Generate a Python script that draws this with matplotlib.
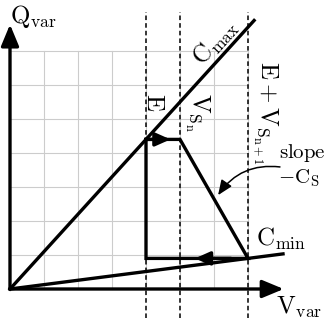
import matplotlib
matplotlib.use("Agg")
import matplotlib.pyplot as plt

plt.rcParams["mathtext.fontset"] = "cm"

# grid and guide lines (data units)
grid_ticks = [0, 1, 2, 3, 4, 5, 6, 7]
dashed_x = [4, 5, 7]
dashed_y = (-0.85, 8.15)

# characteristic lines through the origin
cmax_slope = 1.1
cmax_end_x = 7.18
cmin_slope = 0.1286
cmin_end_x = 8.03

# operating cycle E -> V_Sn -> E+V_Sn+1 -> back to E
cycle_x = [4, 5, 7, 4, 4]
cycle_y = [4.4, 4.4, 0.9, 0.9, 4.4]

fig = plt.figure(figsize=(3.26, 3.23), dpi=100)
ax = fig.add_axes([0, 0, 1, 1])
ax.set_xlim(-10 / 34, 316 / 34)
ax.set_ylim(-1.0, 289 / 34)
ax.axis("off")

# light grid
for g in grid_ticks:
    ax.plot([g, g], [0, 7], color="#cccccc", lw=0.8, zorder=1)
    ax.plot([0, 7], [g, g], color="#cccccc", lw=0.8, zorder=1)

for x in dashed_x:
    ax.plot([x, x], dashed_y, color="black", lw=1.1, ls=(0, (3, 2)), zorder=2)

ax.plot([0, cmax_end_x], [0, cmax_slope * cmax_end_x], color="black", lw=2.4, zorder=3)
ax.plot([0, cmin_end_x], [0, cmin_slope * cmin_end_x], color="black", lw=2.4, zorder=3)
ax.plot(cycle_x, cycle_y, color="black", lw=2.4, zorder=3, solid_joinstyle="miter")

head = dict(arrowstyle="-|>,head_length=0.45,head_width=0.2", mutation_scale=20,
            color="black", lw=2.4, shrinkA=0, shrinkB=0)
ax.annotate("", xy=(4.72, 4.4), xytext=(4.0, 4.4), arrowprops=head, zorder=4)
ax.annotate("", xy=(5.44, 0.9), xytext=(6.5, 0.9), arrowprops=head, zorder=4)

# axes with arrows
axis_head = dict(arrowstyle="-|>,head_length=0.65,head_width=0.27", mutation_scale=20,
                 color="black", lw=2.4, shrinkA=0, shrinkB=0)
ax.annotate("", xy=(8.05, 0), xytext=(0, 0), arrowprops=axis_head, zorder=5)
ax.annotate("", xy=(0, 7.78), xytext=(0, 0), arrowprops=axis_head, zorder=5)

# curved pointer for the slope label
ax.annotate("", xy=(6.12, 2.76), xytext=(7.94, 3.59),
            arrowprops=dict(arrowstyle="-|>,head_length=0.6,head_width=0.25", mutation_scale=15,
                            color="black", lw=1.1, shrinkA=0, shrinkB=0,
                            connectionstyle="arc3,rad=0.3"), zorder=5)

fs = 18
ax.text(0.0, 8.0, r"$\mathrm{Q}_{\mathrm{var}}$", fontsize=fs, ha="left", va="center")
ax.text(8.5, -0.53, r"$\mathrm{V}_{\mathrm{var}}$", fontsize=fs, ha="center", va="center")
ax.text(6.03, 7.26, r"$\mathrm{C}_{\mathrm{max}}$", fontsize=fs, ha="center", va="center",
        rotation=47.7, rotation_mode="anchor")
ax.text(7.97, 1.47, r"$\mathrm{C}_{\mathrm{min}}$", fontsize=fs, ha="center", va="center")
ax.text(4.24, 5.5, r"$\mathrm{E}$", fontsize=fs, ha="center", va="center", rotation=-90)
ax.text(5.5, 5.18, r"$\mathrm{V}_{\mathrm{S}_\mathrm{n}}$", fontsize=fs, ha="center", va="center",
        rotation=-90)
ax.text(7.5, 5.18, r"$\mathrm{E}+\mathrm{V}_{\mathrm{S}_{\mathrm{n}+1}}$", fontsize=fs,
        ha="center", va="center", rotation=-90)
ax.text(8.59, 4.0, r"$\mathrm{slope}$", fontsize=15, ha="center", va="center")
ax.text(8.5, 3.26, r"$-\mathrm{C}_{\mathrm{S}}$", fontsize=15, ha="center", va="center")

fig.savefig("out.png", dpi=100)
